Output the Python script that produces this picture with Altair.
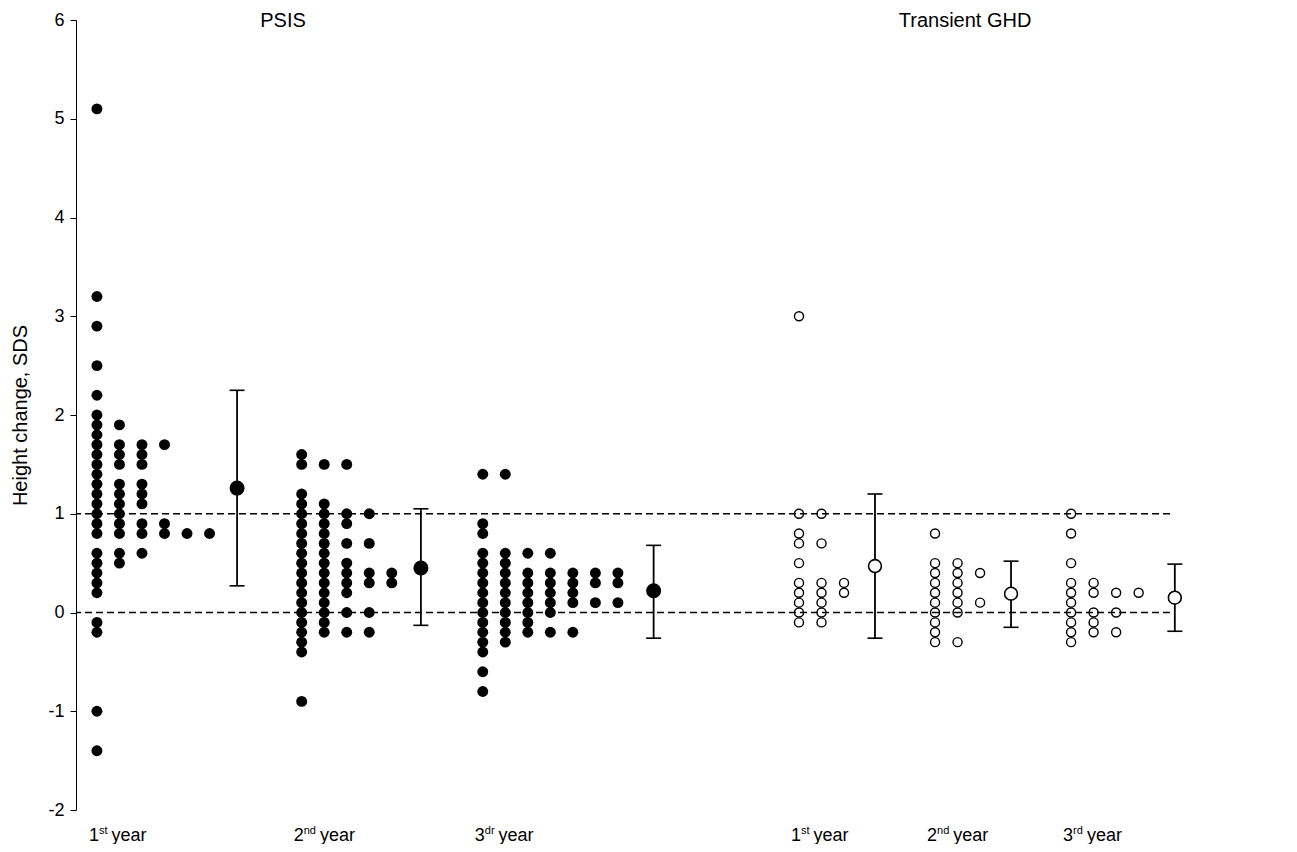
import altair as alt
import pandas as pd

# ---------------- data ----------------
# individual values, one list per dot column
PSIS_Y1 = [
    [5.1, 3.2, 2.9, 2.5, 2.2, 2.0, 1.9, 1.8, 1.7, 1.6, 1.5, 1.4, 1.3, 1.2, 1.1, 1.0, 0.9, 0.8,
     0.6, 0.5, 0.4, 0.3, 0.2, -0.1, -0.2, -1.0, -1.4],
    [1.9, 1.7, 1.6, 1.5, 1.3, 1.2, 1.1, 1.0, 0.9, 0.8, 0.6, 0.5],
    [1.7, 1.6, 1.5, 1.3, 1.2, 1.1, 0.9, 0.8, 0.6],
    [1.7, 0.9, 0.8],
    [0.8],
    [0.8],
]
PSIS_Y2 = [
    [1.6, 1.5, 1.2, 1.1, 1.0, 0.9, 0.8, 0.7, 0.6, 0.5, 0.4, 0.3, 0.2, 0.1, 0.0, -0.1, -0.2,
     -0.3, -0.4, -0.9],
    [1.5, 1.1, 1.0, 0.9, 0.8, 0.7, 0.6, 0.5, 0.4, 0.3, 0.2, 0.1, 0.0, -0.1, -0.2],
    [1.5, 1.0, 0.9, 0.7, 0.5, 0.4, 0.3, 0.2, 0.0, -0.2],
    [1.0, 0.7, 0.4, 0.3, 0.0, -0.2],
    [0.4, 0.3],
]
PSIS_Y3 = [
    [1.4, 0.9, 0.8, 0.6, 0.5, 0.4, 0.3, 0.2, 0.1, 0.0, -0.1, -0.2, -0.3, -0.4, -0.6, -0.8],
    [1.4, 0.6, 0.5, 0.4, 0.3, 0.2, 0.1, 0.0, -0.1, -0.2, -0.3],
    [0.6, 0.4, 0.3, 0.2, 0.1, 0.0, -0.1, -0.2],
    [0.6, 0.4, 0.3, 0.2, 0.1, 0.0, -0.2],
    [0.4, 0.3, 0.2, 0.1, -0.2],
    [0.4, 0.3, 0.1],
    [0.4, 0.3, 0.1],
]
GHD_Y1 = [
    [3.0, 1.0, 0.8, 0.7, 0.5, 0.3, 0.2, 0.1, 0.0, -0.1],
    [1.0, 0.7, 0.3, 0.2, 0.1, 0.0, -0.1],
    [0.3, 0.2],
]
GHD_Y2 = [
    [0.8, 0.5, 0.4, 0.3, 0.2, 0.1, 0.0, -0.1, -0.2, -0.3],
    [0.5, 0.4, 0.3, 0.2, 0.1, 0.0, -0.3],
    [0.4, 0.1],
]
GHD_Y3 = [
    [1.0, 0.8, 0.5, 0.3, 0.2, 0.1, 0.0, -0.1, -0.2, -0.3],
    [0.3, 0.2, 0.0, -0.1, -0.2],
    [0.2, 0.0, -0.2],
    [0.2],
]

# summary (mean with bar ends)
PSIS_MEAN = [1.26, 0.45, 0.22]
PSIS_LO = [0.27, -0.13, -0.26]
PSIS_HI = [2.25, 1.05, 0.68]
GHD_MEAN = [0.47, 0.19, 0.15]
GHD_LO = [-0.26, -0.15, -0.19]
GHD_HI = [1.20, 0.52, 0.49]

REF_LINES = [0, 1]
GROUP_TITLES = ["PSIS", "Transient GHD"]
YEAR_NUM = ["1", "2", "3", "1", "2", "3"]
YEAR_SUP = ["st", "nd", "dr", "st", "nd", "rd"]
YEAR_WORD = "year"

# ---------------- layout (slot units on a hidden x scale) ----------------
GROUP_START = [0.92, 9.92, 17.88, 31.78, 37.76, 43.74]
MEAN_POS = [7.08, 15.16, 25.39, 35.12, 41.10, 48.30]
TITLE_POS = [9.10, 39.08]
COL_STEP = 0.99
PX_PER_UNIT = 22.75
X_MAX = 1094 / PX_PER_UNIT

FONT = "Liberation Sans"

# ---------------- build tables ----------------
groups = [("PSIS", PSIS_Y1), ("PSIS", PSIS_Y2), ("PSIS", PSIS_Y3),
          ("GHD", GHD_Y1), ("GHD", GHD_Y2), ("GHD", GHD_Y3)]
rows = []
for gi, (g, cols) in enumerate(groups):
    for ci, col in enumerate(cols):
        for v in col:
            rows.append({"grp": g, "x": GROUP_START[gi] + ci * COL_STEP, "v": v})
dots = pd.DataFrame(rows)

means = pd.DataFrame({
    "grp": ["PSIS"] * 3 + ["GHD"] * 3,
    "x": MEAN_POS,
    "v": PSIS_MEAN + GHD_MEAN,
    "lo": PSIS_LO + GHD_LO,
    "hi": PSIS_HI + GHD_HI,
})

num_w = 10.0 / PX_PER_UNIT          # width of the digit
sup_w = {"st": 8.6, "nd": 12.2, "dr": 9.8, "rd": 9.8}
lab_start = [s - 8.0 / PX_PER_UNIT for s in GROUP_START]
labels = pd.DataFrame({
    "xn": lab_start,
    "xs": [s + num_w for s in lab_start],
    "xw": [s + num_w + (sup_w[u] + 4.0) / PX_PER_UNIT for s, u in zip(lab_start, YEAR_SUP)],
    "num": YEAR_NUM,
    "sup": YEAR_SUP,
    "word": [YEAR_WORD] * 6,
    "v": [-2.0] * 6,
})
titles = pd.DataFrame({"x": TITLE_POS, "v": [6.0, 6.0], "t": GROUP_TITLES})
refs = pd.DataFrame({"v": REF_LINES})

# ---------------- encodings ----------------
xscale = alt.Scale(domain=[0, X_MAX], nice=False, zero=False)
yscale = alt.Scale(domain=[-2, 6], nice=False, zero=False)
yaxis = alt.Axis(values=list(range(-2, 7)), grid=False, tickSize=6, labelPadding=6,
                 labelFontSize=18, titleFontSize=20, titleFontWeight="normal",
                 labelExpr="'' + datum.value",
                 domainColor="black", tickColor="black", labelColor="black",
                 titleColor="black", titlePadding=17, labelFont=FONT, titleFont=FONT,
                 domainWidth=1, tickWidth=1)


def X(f):
    return alt.X(f"{f}:Q", scale=xscale, axis=None)


def Y(f):
    return alt.Y(f"{f}:Q", scale=yscale, axis=yaxis, title="Height change, SDS")


rules = alt.Chart(refs).mark_rule(color="black", strokeDash=[7, 4], strokeWidth=1.5).encode(
    y=Y("v"))

psis_dots = alt.Chart(dots).transform_filter(alt.datum.grp == "PSIS").mark_circle(
    size=120, color="black", opacity=1).encode(x=X("x"), y=Y("v"))

ghd_dots = alt.Chart(dots).transform_filter(alt.datum.grp == "GHD").mark_point(
    shape="circle", filled=False, color="black", strokeWidth=1.4, size=82, opacity=1
).encode(x=X("x"), y=Y("v"))

err = alt.Chart(means).mark_rule(color="black", strokeWidth=1.8).encode(
    x=X("x"), y=Y("lo"), y2="hi")

caps = alt.Chart(means).transform_fold(["lo", "hi"], as_=["k", "e"]).mark_tick(
    orient="horizontal", size=15, thickness=1.6, color="black", opacity=1
).encode(x=X("x"), y=Y("e"))

psis_mean = alt.Chart(means).transform_filter(alt.datum.grp == "PSIS").mark_circle(
    size=225, color="black", opacity=1).encode(x=X("x"), y=Y("v"))

ghd_mean = alt.Chart(means).transform_filter(alt.datum.grp == "GHD").mark_circle(
    size=165, fill="white", stroke="black", strokeWidth=1.6, opacity=1
).encode(x=X("x"), y=Y("v"))

title_txt = alt.Chart(titles).mark_text(
    font=FONT, fontSize=20, color="black", align="center", baseline="middle", dy=1
).encode(x=X("x"), y=Y("v"), text="t:N")

lab_num = alt.Chart(labels).mark_text(
    font=FONT, fontSize=18, color="black", align="left", baseline="alphabetic", dy=31
).encode(x=X("xn"), y=Y("v"), text="num:N")
lab_sup = alt.Chart(labels).mark_text(
    font=FONT, fontSize=11, color="black", align="left", baseline="alphabetic", dy=24
).encode(x=X("xs"), y=Y("v"), text="sup:N")
lab_word = alt.Chart(labels).mark_text(
    font=FONT, fontSize=18, color="black", align="left", baseline="alphabetic", dy=31
).encode(x=X("xw"), y=Y("v"), text="word:N")

chart = alt.layer(
    rules, psis_dots, ghd_dots, err, caps, psis_mean, ghd_mean,
    title_txt, lab_num, lab_sup, lab_word
).properties(
    width=1094, height=790,
    padding={"left": 68, "top": 12, "right": 30, "bottom": 34},
    autosize=alt.AutoSizeParams(type="none"),
).configure(font=FONT).configure_view(stroke="transparent", strokeWidth=0)

chart.save("out.html", embed_options={"renderer": "svg", "actions": False})
